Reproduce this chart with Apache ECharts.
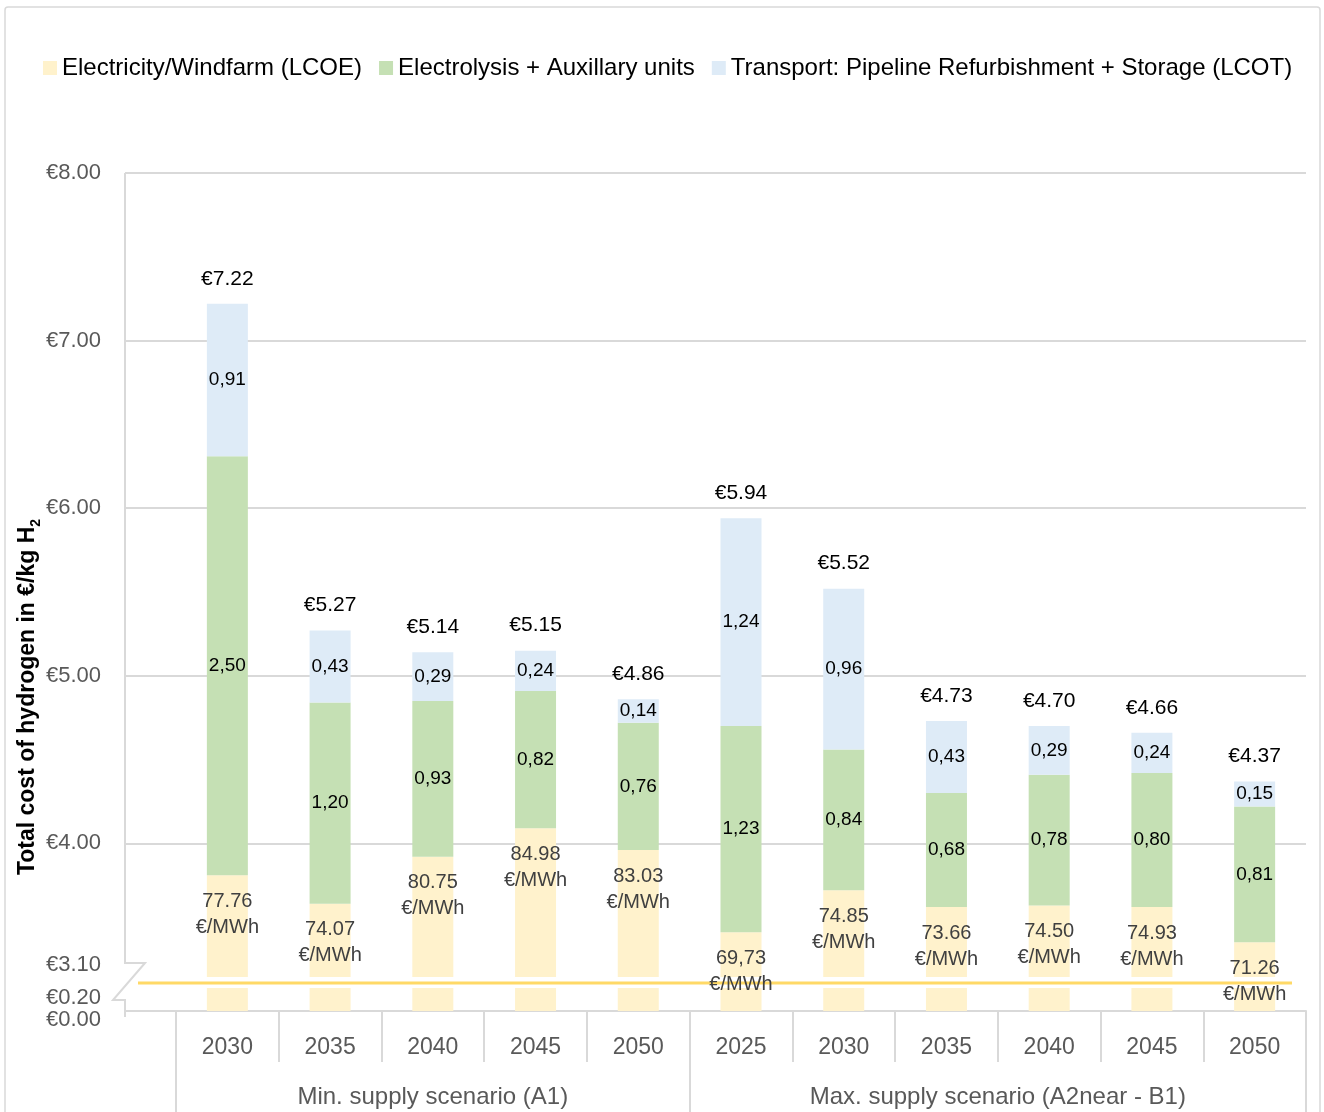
<!DOCTYPE html>
<html>
<head>
<meta charset="utf-8">
<title>Total cost of hydrogen</title>
<script src="https://cdn.jsdelivr.net/npm/echarts@6/dist/echarts.min.js"></script>
<style>
  html, body { margin: 0; padding: 0; background: #ffffff; }
  #chart { width: 1324px; height: 1112px; }
</style>
</head>
<body>
<div id="chart"></div>
<script>
// Categories: year within each supply scenario
const years = ['2030', '2035', '2040', '2045', '2050', '2025', '2030', '2035', '2040', '2045', '2050'];
const scenarios = ['Min. supply scenario (A1)', 'Max. supply scenario (A2near - B1)'];
const scenarioStart = [0, 5];
const scenarioEnd = [4, 10];

// Cost components in €/kg H2
const totalCost = [7.22, 5.27, 5.14, 5.15, 4.86, 5.94, 5.52, 4.73, 4.70, 4.66, 4.37];
const electrolysis = [2.50, 1.20, 0.93, 0.82, 0.76, 1.23, 0.84, 0.68, 0.78, 0.80, 0.81];
const transport = [0.91, 0.43, 0.29, 0.24, 0.14, 1.24, 0.96, 0.43, 0.29, 0.24, 0.15];
// Levelised cost of electricity shown on the bottom segment (€/MWh)
const lcoeLabels = ['77.76', '74.07', '80.75', '84.98', '83.03', '69,73', '74.85', '73.66', '74.50', '74.93', '71.26'];

// Value axis (upper part above the break) and labels of the cut-off part
const yMin = 3, yMax = 8, yStep = 1;
const breakLabels = ['€3.10', '€0.20', '€0.00'];

const seriesNames = [
  'Electricity/Windfarm (LCOE)',
  'Electrolysis + Auxillary units',
  'Transport: Pipeline Refurbishment + Storage (LCOT)'
];
const colors = ['#FFF2CC', '#C5E0B4', '#DEEBF7'];

// electricity share = total minus the two labelled components
const electricity = totalCost.map((t, i) => +(t - electrolysis[i] - transport[i]).toFixed(2));

const FONT = '"Liberation Sans", Arial, sans-serif';
const GREY = '#d9d9d9';
const Y_OFFSET = 51;
const comma = v => v.toFixed(2).replace('.', ',');

const chart = echarts.init(document.getElementById('chart'), null, { renderer: 'canvas' });

const segLabel = {
  show: true,
  position: 'inside',
  fontSize: 19,
  fontFamily: FONT,
  color: '#000000',
  textBorderWidth: 0,
  formatter: p => comma(p.value)
};

chart.setOption({
  animation: false,
  backgroundColor: '#ffffff',
  textStyle: { fontFamily: FONT },
  legend: {
    data: seriesNames,
    left: 38,
    top: 51,
    icon: 'rect',
    itemWidth: 14,
    itemHeight: 14,
    itemGap: 17,
    selectedMode: false,
    textStyle: { fontSize: 24, color: '#000000', fontFamily: FONT }
  },
  grid: {
    left: 176,
    right: 18,
    top: 173,
    bottom: 101,
    containLabel: false,
    outerBoundsMode: 'none'
  },
  xAxis: [
    {
      type: 'category',
      data: years,
      axisLine: { show: true, lineStyle: { color: GREY, width: 2 } },
      axisTick: { show: true, interval: 0, length: 51, lineStyle: { color: GREY, width: 2 } },
      axisLabel: { interval: 0, margin: 25, fontSize: 23, color: '#595959', fontFamily: FONT },
      splitLine: { show: false }
    },
    {
      type: 'category',
      data: years,
      position: 'bottom',
      offset: 51,
      axisLine: { show: false },
      axisTick: {
        show: true,
        interval: i => scenarioStart.includes(i),
        length: 50,
        lineStyle: { color: GREY, width: 2 }
      },
      axisLabel: { show: false },
      splitLine: { show: false }
    }
  ],
  yAxis: {
    type: 'value',
    min: yMin,
    max: yMax,
    interval: yStep,
    offset: Y_OFFSET,
    axisLine: { show: false },
    axisTick: { show: true, inside: true, length: Y_OFFSET, lineStyle: { color: GREY, width: 2 } },
    splitLine: { show: true, lineStyle: { color: GREY, width: 2 } },
    axisLabel: {
      margin: 24,
      fontSize: 22,
      color: '#595959',
      fontFamily: FONT,
      formatter: v => (v === yMin ? '' : '€' + v.toFixed(2))
    }
  },
  series: [
    {
      name: seriesNames[0], type: 'bar', stack: 'cost', barWidth: 41, z: 2,
      itemStyle: { color: colors[0] },
      data: electricity
    },
    {
      name: seriesNames[1], type: 'bar', stack: 'cost', barWidth: 41, z: 2,
      itemStyle: { color: colors[1] },
      label: segLabel,
      data: electrolysis
    },
    {
      name: seriesNames[2], type: 'bar', stack: 'cost', barWidth: 41, z: 2,
      itemStyle: { color: colors[2] },
      label: segLabel,
      data: transport
    },
    {
      // totals above the stacks and LCOE inside the bottom segment
      name: 'labels', type: 'custom', z: 5, silent: true,
      data: totalCost.map((t, i) => [i, t, electricity[i]]),
      encode: { x: 0, y: 1 },
      renderItem: (params, api) => {
        const i = api.value(0);
        const top = api.coord([i, api.value(1)]);
        const yel = api.coord([i, api.value(2)]);
        return {
          type: 'group',
          children: [
            {
              type: 'text', x: top[0], y: top[1] - 25,
              style: {
                text: '€' + totalCost[i].toFixed(2), fontSize: 21, fontFamily: FONT,
                fill: '#000000', align: 'center', verticalAlign: 'middle'
              }
            },
            {
              type: 'text', x: yel[0], y: yel[1] + 13,
              style: {
                text: lcoeLabels[i] + '\n€/MWh', fontSize: 20, fontFamily: FONT, lineHeight: 26,
                fill: '#404040', align: 'center', verticalAlign: 'top'
              }
            }
          ]
        };
      }
    }
  ]
});

// Axis break, frame, group labels and axis title placed from the axes' own scales
function drawDecorations() {
  const c0 = chart.convertToPixel({ xAxisIndex: 0 }, 0);
  const c1 = chart.convertToPixel({ xAxisIndex: 0 }, 1);
  const band = c1 - c0;
  const xLeft = c0 - band / 2;
  const xRight = chart.convertToPixel({ xAxisIndex: 0 }, years.length - 1) + band / 2;
  const axisX = xLeft - Y_OFFSET;
  const yBottom = chart.convertToPixel({ yAxisIndex: 0 }, yMin);
  const yTop = chart.convertToPixel({ yAxisIndex: 0 }, yMax);

  const labelY = [yBottom - 46, yBottom - 13, yBottom + 9];
  const graphics = [
    {
      type: 'rect', z: 0, silent: true,
      shape: { x: 5, y: 7, width: 1315, height: 1125, r: 3 },
      style: { fill: 'none', stroke: GREY, lineWidth: 1.5 }
    },
    {
      type: 'rect', z: 3, silent: true,
      shape: { x: xLeft, y: yBottom - 34, width: xRight - xLeft, height: 11 },
      style: { fill: '#ffffff' }
    },
    {
      type: 'line', z: 4, silent: true,
      shape: { x1: axisX + 13, y1: yBottom - 28, x2: xRight - 14, y2: yBottom - 28 },
      style: { stroke: '#FFD966', lineWidth: 3 }
    },
    {
      type: 'polyline', z: 4, silent: true,
      shape: {
        points: [
          [axisX, yTop], [axisX, yBottom - 48], [axisX + 20, yBottom - 48],
          [axisX - 12, yBottom - 11], [axisX, yBottom - 11], [axisX, yBottom + 6]
        ]
      },
      style: { stroke: GREY, lineWidth: 2, fill: null }
    },
    {
      type: 'text', z: 5, silent: true,
      x: 28, y: (yTop + yBottom) / 2 + 105, rotation: Math.PI / 2,
      style: {
        text: 'Total cost of hydrogen in €/kg H{sub|2}',
        fontSize: 23, fontWeight: 'bold', fontFamily: FONT, fill: '#000000',
        align: 'center', verticalAlign: 'middle',
        rich: {
          sub: { fontSize: 14, fontWeight: 'bold', fontFamily: FONT, fill: '#000000', verticalAlign: 'top', padding: [16, 0, 0, 0] }
        }
      }
    }
  ];

  breakLabels.forEach((t, k) => {
    graphics.push({
      type: 'text', z: 5, silent: true, x: axisX - 24, y: labelY[k],
      style: { text: t, fontSize: 22, fontFamily: FONT, fill: '#595959', align: 'right', verticalAlign: 'middle' }
    });
  });

  scenarios.forEach((s, k) => {
    const xa = chart.convertToPixel({ xAxisIndex: 0 }, scenarioStart[k]);
    const xb = chart.convertToPixel({ xAxisIndex: 0 }, scenarioEnd[k]);
    graphics.push({
      type: 'text', z: 5, silent: true, x: (xa + xb) / 2, y: yBottom + 86,
      style: { text: s, fontSize: 24, fontFamily: FONT, fill: '#595959', align: 'center', verticalAlign: 'middle' }
    });
  });

  chart.setOption({ graphic: graphics });
}

drawDecorations();
</script>
</body>
</html>
